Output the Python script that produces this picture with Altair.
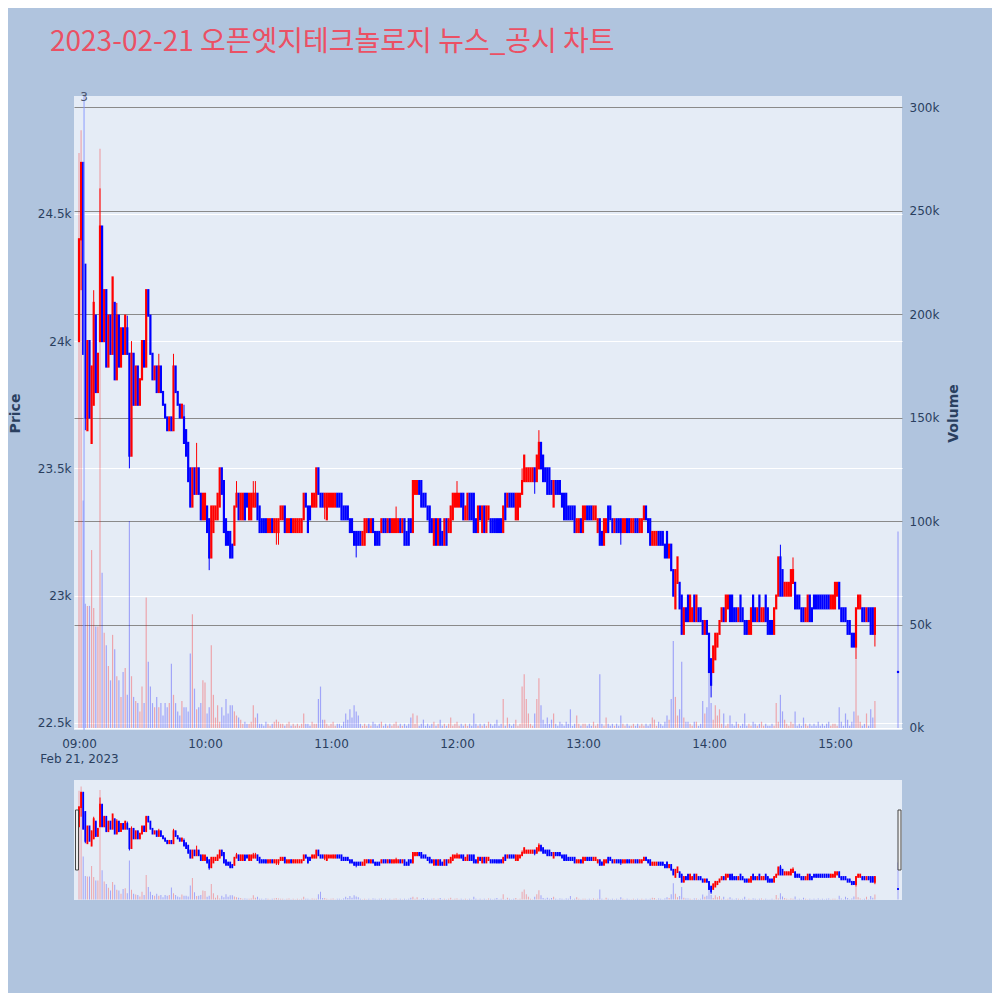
import altair as alt
import pandas as pd

TITLE = "2023-02-21 오픈엣지테크놀로지 뉴스_공시 차트"
DATE_LABEL = "Feb 21, 2023"

# 1-minute candles from 09:00 (index = minutes after 09:00)
opens = [
    24000, 24400, 24700, 24300, 23650, 24000, 23600, 23750, 24100, 23800,
    24000, 24450, 24000, 24200, 23900, 24100, 23950, 24150, 23850, 24100,
    23900, 24050, 23950, 24050, 23950, 23550, 23950, 23750, 23900, 23750,
    23850, 24000, 23900, 24200, 24100, 23950, 23850, 23900, 23800, 23900,
    23800, 23750, 23700, 23650, 23700, 23650, 23900, 23800, 23750, 23700,
    23700, 23650, 23600, 23500, 23350, 23500, 23400, 23500, 23400, 23300,
    23300, 23350, 23300, 23150, 23250, 23300, 23300, 23350, 23500, 23450,
    23300, 23250, 23250, 23200, 23200, 23350, 23400, 23300, 23300, 23400,
    23400, 23300, 23300, 23350, 23350, 23400, 23350, 23300, 23300, 23300,
    23250, 23250, 23300, 23250, 23250, 23250, 23300, 23300, 23350, 23250,
    23250, 23300, 23250, 23250, 23250, 23250, 23250, 23300, 23400, 23350,
    23350, 23350, 23350, 23350, 23500, 23400, 23400, 23350, 23300, 23350,
    23350, 23350, 23350, 23400, 23400, 23400, 23350, 23350, 23350, 23300,
    23300, 23250, 23250, 23250, 23250, 23200, 23200, 23250, 23300, 23250,
    23300, 23250, 23250, 23250, 23250, 23300, 23300, 23250, 23300, 23250,
    23250, 23250, 23250, 23300, 23250, 23300, 23250, 23300, 23300, 23250,
    23400, 23400, 23450, 23450, 23400, 23400, 23350, 23350, 23300, 23200,
    23300, 23200, 23300, 23250, 23200, 23300, 23250, 23250, 23300, 23350,
    23350, 23350, 23400, 23400, 23300, 23300, 23400, 23400, 23400, 23300,
    23250, 23350, 23250, 23350, 23250, 23300, 23300, 23300, 23300, 23300,
    23300, 23300, 23250, 23400, 23350, 23400, 23400, 23400, 23300, 23300,
    23350, 23400, 23450, 23450, 23450, 23450, 23450, 23500, 23450, 23500,
    23600, 23550, 23500, 23500, 23500, 23450, 23350, 23450, 23450, 23450,
    23400, 23400, 23400, 23350, 23350, 23350, 23350, 23250, 23250, 23300,
    23250, 23300, 23350, 23350, 23350, 23300, 23300, 23250, 23300, 23250,
    23200, 23250, 23350, 23350, 23300, 23250, 23300, 23300, 23300, 23250,
    23250, 23300, 23300, 23250, 23250, 23300, 23300, 23250, 23250, 23300,
    23350, 23300, 23300, 23200, 23200, 23200, 23250, 23250, 23250, 23200,
    23250, 23150, 23200, 23100, 22950, 23050, 23050, 23000, 22850, 22950,
    23000, 22900, 22900, 23000, 22900, 22950, 22950, 22900, 22850, 22900,
    22850, 22750, 22700, 22750, 22800, 22850, 22900, 22950, 22900, 22950,
    23000, 23000, 22950, 22950, 22900, 23000, 22950, 22900, 22900, 22850,
    22850, 23000, 22950, 22900, 23000, 22900, 22900, 23000, 22950, 22900,
    22900, 22850, 22950, 23000, 23150, 23100, 23000, 23000, 23000, 23000,
    23050, 23050, 23000, 23000, 22950, 22950, 22900, 22900, 23000, 22950,
    23000, 23000, 23000, 23000, 23000, 23000, 23000, 23000, 22950, 22950,
    22950, 23000, 23050, 22950, 22950, 22950, 22900, 22900, 22850, 22850,
    22800, 22950, 22950, 22950, 22950, 22900, 22950, 22950, 22950, 22850,
]
closes = [
    24400, 24700, 23950, 23700, 24000, 23700, 23900, 24150, 23800, 23950,
    24450, 24000, 24200, 23900, 24100, 23950, 24250, 23850, 24100, 23900,
    24050, 23950, 24100, 23950, 23550, 23950, 23750, 23900, 23750, 23850,
    24000, 23900, 24200, 24100, 23950, 23850, 23900, 23800, 23900, 23800,
    23750, 23700, 23650, 23700, 23650, 23900, 23800, 23750, 23700, 23750,
    23600, 23550, 23450, 23350, 23500, 23400, 23500, 23400, 23300, 23400,
    23400, 23250, 23150, 23350, 23350, 23350, 23400, 23500, 23400, 23250,
    23200, 23200, 23150, 23150, 23350, 23400, 23300, 23400, 23400, 23300,
    23350, 23400, 23400, 23400, 23400, 23300, 23250, 23250, 23250, 23250,
    23300, 23300, 23250, 23300, 23300, 23300, 23350, 23350, 23250, 23300,
    23300, 23250, 23300, 23300, 23300, 23300, 23300, 23400, 23350, 23250,
    23300, 23400, 23400, 23500, 23400, 23350, 23350, 23400, 23400, 23400,
    23400, 23400, 23400, 23350, 23350, 23300, 23300, 23300, 23300, 23250,
    23250, 23200, 23200, 23200, 23200, 23250, 23300, 23300, 23250, 23300,
    23250, 23200, 23200, 23200, 23300, 23250, 23250, 23300, 23250, 23300,
    23300, 23300, 23300, 23250, 23300, 23200, 23200, 23200, 23250, 23450,
    23450, 23450, 23400, 23350, 23350, 23350, 23300, 23250, 23250, 23300,
    23200, 23300, 23200, 23200, 23300, 23200, 23300, 23350, 23400, 23400,
    23400, 23400, 23350, 23300, 23350, 23400, 23300, 23300, 23250, 23250,
    23350, 23300, 23350, 23250, 23350, 23350, 23250, 23250, 23250, 23250,
    23250, 23250, 23350, 23300, 23400, 23350, 23350, 23350, 23400, 23400,
    23400, 23450, 23550, 23500, 23500, 23500, 23500, 23450, 23550, 23600,
    23500, 23450, 23450, 23400, 23400, 23400, 23450, 23400, 23400, 23400,
    23350, 23300, 23300, 23300, 23300, 23300, 23250, 23300, 23300, 23250,
    23350, 23350, 23300, 23300, 23300, 23350, 23350, 23300, 23200, 23200,
    23300, 23300, 23250, 23300, 23250, 23300, 23250, 23250, 23250, 23300,
    23300, 23250, 23250, 23300, 23300, 23250, 23250, 23300, 23300, 23350,
    23300, 23250, 23200, 23250, 23250, 23250, 23200, 23200, 23200, 23150,
    23150, 23200, 23100, 23000, 23100, 23150, 22950, 22850, 22950, 22900,
    22900, 23000, 22950, 22900, 23000, 22900, 22900, 22850, 22900, 22850,
    22700, 22650, 22800, 22850, 22850, 22900, 22950, 22900, 23000, 23000,
    22900, 22900, 22900, 22900, 22950, 22900, 22900, 22850, 22850, 22900,
    22950, 22900, 22900, 22950, 22900, 22950, 22950, 22900, 22850, 22850,
    22850, 22950, 23000, 23150, 23000, 23000, 23050, 23050, 23050, 23100,
    23100, 22950, 22950, 22950, 22900, 22900, 22950, 23000, 22900, 22900,
    22950, 22950, 22950, 22950, 22950, 22950, 22950, 22950, 23000, 23000,
    23050, 23050, 22950, 22900, 22900, 22900, 22850, 22850, 22800, 22800,
    22950, 23000, 23000, 22900, 22900, 22950, 22900, 22850, 22850, 22950,
]
volumes_k = [
    278, 289, 110, 60, 59, 59, 86, 58, 49, 49,
    280, 75, 46, 40, 30, 23, 45, 38, 25, 23,
    15, 27, 29, 16, 100, 25, 15, 13, 12, 8,
    20, 12, 63, 32, 20, 12, 10, 15, 10, 12,
    6, 12, 10, 12, 31, 16, 12, 8, 6, 13,
    10, 10, 8, 36, 55, 19, 9, 10, 12, 23,
    22, 7, 10, 40, 16, 5, 11, 3, 10, 6,
    14, 7, 11, 11, 8, 6, 5, 4, 2, 3,
    2, 2, 3, 11, 5, 7, 2, 2, 1, 3,
    2, 1, 2, 3, 4, 3, 2, 2, 1, 2,
    3, 1, 2, 1, 2, 1, 2, 7, 2, 2,
    1, 3, 2, 2, 14, 20, 4, 4, 2, 1,
    2, 3, 1, 2, 2, 1, 3, 7, 4, 9,
    5, 11, 8, 6, 2, 1, 2, 1, 2, 1,
    3, 2, 1, 2, 3, 1, 2, 1, 2, 1,
    2, 3, 1, 2, 1, 2, 1, 2, 5, 7,
    2, 6, 1, 2, 4, 1, 2, 1, 2, 3,
    1, 2, 4, 1, 2, 1, 2, 5, 1, 2,
    3, 1, 2, 1, 2, 1, 2, 1, 7, 2,
    1, 2, 1, 2, 1, 3, 2, 1, 2, 4,
    1, 2, 14, 1, 5, 2, 1, 2, 4, 1,
    2, 20, 26, 14, 7, 2, 1, 7, 14, 24,
    11, 4, 2, 5, 2, 4, 7, 2, 1, 3,
    2, 1, 3, 2, 9, 1, 2, 6, 2, 1,
    2, 2, 1, 2, 1, 3, 1, 2, 26, 2,
    1, 5, 2, 1, 2, 1, 2, 1, 6, 2,
    1, 2, 1, 1, 2, 1, 2, 1, 2, 1,
    2, 1, 2, 5, 4, 1, 3, 2, 1, 3,
    6, 4, 14, 42, 15, 6, 9, 32, 5, 3,
    3, 2, 1, 3, 3, 1, 2, 13, 7, 10,
    29, 12, 4, 11, 6, 9, 2, 7, 1, 2,
    6, 2, 1, 3, 2, 1, 2, 7, 1, 2,
    1, 3, 2, 1, 2, 3, 1, 2, 1, 1,
    2, 1, 12, 3, 16, 8, 4, 2, 1, 3,
    2, 8, 1, 2, 1, 5, 2, 1, 2, 1,
    2, 1, 3, 1, 2, 1, 2, 3, 1, 2,
    2, 1, 10, 3, 1, 7, 4, 1, 3, 8,
    33, 6, 3, 1, 2, 7, 1, 9, 5, 13,
]
high_wick_minutes = [7, 10, 18, 23, 25, 38, 45, 50, 56, 75, 83, 84, 151, 180, 211, 219, 334, 340]
high_wick_values = [24200, 24600, 24150, 24100, 24000, 23950, 23950, 23750, 23600, 23450,
                    23450, 23450, 23350, 23450, 23500, 23650, 23200, 23150]
low_wick_minutes = [1, 3, 24, 62, 94, 95, 117, 132, 217, 258, 301, 370, 379]
low_wick_values = [24200, 23650, 23500, 23100, 23200, 23200, 23300, 23150, 23400, 23200,
                   22600, 22750, 22800]

# closing auction 15:30
auction_minute = 390
auction_price = 22700
auction_volume_k = 95

# news marker
news_minutes = [2.4]
news_counts = ["3"]

price_ticks = [22500, 23000, 23500, 24000, 24500]
volume_ticks = [0, 50000, 100000, 150000, 200000, 250000, 300000]
hour_ticks = [0, 60, 120, 180, 240, 300, 360]

assert len(opens) == len(closes) == len(volumes_k) == 380

rows = []
for i, (o, c, v) in enumerate(zip(opens, closes, volumes_k)):
    rows.append({"minute": i, "open": o, "close": c, "high": max(o, c), "low": min(o, c), "volume": v * 1000})
rows.append({"minute": auction_minute, "open": auction_price, "close": auction_price,
             "high": auction_price, "low": auction_price, "volume": auction_volume_k * 1000})
for m, h in zip(high_wick_minutes, high_wick_values):
    rows[m]["high"] = max(rows[m]["high"], h)
for m, lo in zip(low_wick_minutes, low_wick_values):
    rows[m]["low"] = min(rows[m]["low"], lo)
df = pd.DataFrame(rows)
df["dir"] = ["up" if c > o else "down" for o, c in zip(df["open"], df["close"])]

news_df = pd.DataFrame({"minute": news_minutes, "label": news_counts})

FONT = "DejaVu Sans"
TXT = "#2a3f5f"
W, H_MAIN, H_SLIDER = 828, 634, 120

color = alt.Color("dir:N", scale=alt.Scale(domain=["up", "down"], range=["#FF0000", "#0000FF"]), legend=None)
x_scale = alt.Scale(domain=[-2.38, 391.9], nice=False, zero=False, padding=0)
price_scale = alt.Scale(domain=[22472, 24963], nice=False, zero=False)
vol_scale = alt.Scale(domain=[-1000, 305500], nice=False, zero=False)

x_axis = alt.Axis(
    values=hour_ticks, title=None, grid=False, ticks=False, domain=False,
    labelExpr=("datum.value == 0 ? ['09:00', '" + DATE_LABEL + "'] : "
               "((floor(datum.value/60)+9) < 10 ? '0' : '') + (floor(datum.value/60)+9) + ':00'"),
    labelFont=FONT, labelFontSize=12, labelColor=TXT, labelPadding=8, labelLineHeight=15,
)
price_axis = alt.Axis(
    orient="left", values=price_ticks, format="~s", title="Price",
    titleFont=FONT, titleFontSize=14, titleFontWeight="bold", titleColor=TXT,
    labelFont=FONT, labelFontSize=12, labelColor=TXT, labelPadding=3,
    grid=True, gridColor="white", gridWidth=1, domain=False, ticks=False,
    minExtent=38, maxExtent=38, titlePadding=14,
)
vol_axis = alt.Axis(
    orient="right", values=volume_ticks, format="~s", title="Volume",
    titleFont=FONT, titleFontSize=14, titleFontWeight="bold", titleColor=TXT, titleAngle=270,
    labelFont=FONT, labelFontSize=12, labelColor=TXT, labelPadding=7,
    grid=True, gridColor=alt.condition("datum.value === 0", alt.value("white"), alt.value("#8a8a8a")),
    gridWidth=1, domain=False, ticks=False, minExtent=44, maxExtent=44, titlePadding=14,
)


def panel(height, show_axes, body_w, vol_w):
    xa = x_axis if show_axes else None
    x = alt.X("minute:Q", scale=x_scale, axis=xa)
    base = alt.Chart(df)
    vol = base.mark_bar(size=vol_w, opacity=0.3, clip=True).encode(
        x=x,
        y=alt.Y("volume:Q", scale=vol_scale, axis=vol_axis if show_axes else None),
        color=color,
    )
    wick = base.mark_rule(strokeWidth=1, clip=True).encode(
        x=x,
        y=alt.Y("low:Q", scale=price_scale, axis=price_axis if show_axes else None),
        y2="high:Q",
        color=color,
    )
    body = base.mark_rule(strokeWidth=body_w, strokeCap="square", clip=True).encode(
        x=x,
        y=alt.Y("open:Q", scale=price_scale, axis=price_axis if show_axes else None),
        y2="close:Q",
        color=color,
    )
    price = alt.layer(wick, body)
    layers = [vol, price]
    if show_axes:
        news_rule = alt.Chart(news_df).mark_rule(color="#8c9cff", strokeWidth=1).encode(
            x=x, y=alt.value(0), y2=alt.value(height)
        )
        news_text = alt.Chart(news_df).mark_text(
            font=FONT, fontSize=12, color="#4a5670", baseline="middle", align="center"
        ).encode(x=x, y=alt.value(1), text="label:N")
        layers += [news_rule, news_text]
    else:
        hl = alt.Chart(pd.DataFrame({"h": [0]})).mark_rect(
            fill="#eeeeee", stroke="#444444", strokeWidth=1
        ).encode(x=alt.value(1.5), x2=alt.value(4.5), y=alt.value(30), y2=alt.value(90))
        hr = alt.Chart(pd.DataFrame({"h": [1]})).mark_rect(
            fill="#eeeeee", stroke="#444444", strokeWidth=1
        ).encode(x=alt.value(W - 4), x2=alt.value(W - 1), y=alt.value(30), y2=alt.value(90))
        layers += [hl, hr]
    return alt.layer(*layers).resolve_scale(y="independent").properties(width=W, height=height)


main = panel(H_MAIN, True, 2.2, 1.2)
slider = panel(H_SLIDER, False, 1.8, 1.0)

chart = alt.vconcat(main, slider, spacing=50, bounds="flush").properties(
    title=alt.TitleParams(
        TITLE, anchor="start", fontSize=28, font="Noto Sans CJK KR", fontWeight="normal",
        color="#EB5064", dx=42, offset=34,
    ),
    background="#B0C4DE",
    padding={"left": 0, "top": 21, "right": 32, "bottom": 93},
).configure_view(fill="#E5ECF6", stroke=None)

chart.save("out.html", embed_options={"renderer": "svg", "actions": False})
